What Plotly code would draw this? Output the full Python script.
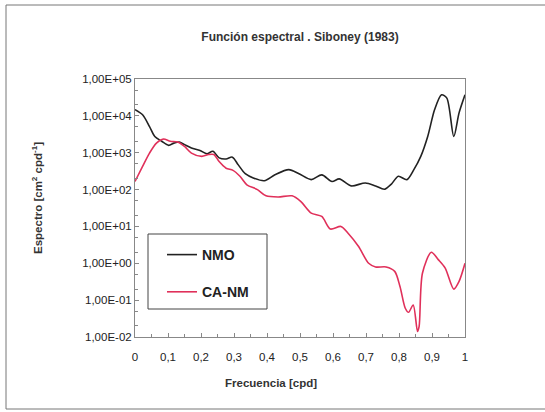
import plotly.graph_objects as go

# NMO spectrum (frequency cpd, log10 spectrum)
nmo_freq = [0.0, 0.023, 0.044, 0.06, 0.081, 0.102, 0.118, 0.134, 0.15, 0.171, 0.197, 0.218, 0.236,
            0.255, 0.276, 0.295, 0.313, 0.334, 0.36, 0.392, 0.424, 0.466, 0.497, 0.534, 0.566, 0.597,
            0.619, 0.655, 0.698, 0.729, 0.756, 0.777, 0.798, 0.824, 0.845, 0.866, 0.887, 0.908, 0.929,
            0.945, 0.966, 0.982, 1.0]
nmo_log = [4.17, 4.03, 3.71, 3.44, 3.31, 3.20, 3.26, 3.29, 3.22, 3.13, 3.06, 2.97, 3.04,
           2.86, 2.83, 2.88, 2.67, 2.43, 2.31, 2.24, 2.40, 2.54, 2.43, 2.27, 2.40, 2.22,
           2.29, 2.10, 2.18, 2.10, 2.01, 2.15, 2.36, 2.27, 2.54, 2.90, 3.44, 4.17, 4.57,
           4.48, 3.44, 4.08, 4.57]

# CA-NM spectrum
ca_freq = [0.0, 0.023, 0.044, 0.065, 0.086, 0.107, 0.129, 0.15, 0.171, 0.202, 0.223, 0.239, 0.255,
           0.276, 0.297, 0.318, 0.339, 0.371, 0.397, 0.434, 0.476, 0.502, 0.534, 0.566, 0.592,
           0.624, 0.645, 0.677, 0.708, 0.729, 0.761, 0.787, 0.803, 0.819, 0.829, 0.843, 0.856,
           0.861, 0.871, 0.898, 0.919, 0.94, 0.966, 0.982, 1.0]
ca_log = [2.22, 2.63, 2.99, 3.26, 3.37, 3.31, 3.29, 3.17, 2.99, 2.90, 2.95, 2.95, 2.76,
          2.58, 2.52, 2.36, 2.13, 2.00, 1.83, 1.80, 1.83, 1.68, 1.36, 1.27, 0.93,
          1.00, 0.82, 0.46, 0.00, -0.10, -0.10, -0.22, -0.63, -1.22, -1.33, -1.13, -1.85,
          -1.71, -0.27, 0.30, 0.10, -0.13, -0.70, -0.49, 0.00]

y_tickvals = [1e-2, 1e-1, 1e0, 1e1, 1e2, 1e3, 1e4, 1e5]
y_ticktext = ["1,00E-02", "1,00E-01", "1,00E+00", "1,00E+01", "1,00E+02", "1,00E+03", "1,00E+04", "1,00E+05"]
x_tickvals = [0, 0.1, 0.2, 0.3, 0.4, 0.5, 0.6, 0.7, 0.8, 0.9, 1]
x_ticktext = ["0", "0,1", "0,2", "0,3", "0,4", "0,5", "0,6", "0,7", "0,8", "0,9", "1"]

nmo_vals = [10 ** v for v in nmo_log]
ca_vals = [10 ** v for v in ca_log]

FONT = "Liberation Sans, Arial, sans-serif"

# plot area in pixels: left 135, right 465, top 79, bottom 337
PL, PR, PT, PB = 135, 465, 79, 337
PW, PH = PR - PL, PB - PT


def px(x):
    return (x - PL) / PW


def py(y):
    return (PB - y) / PH


fig = go.Figure()
fig.add_trace(go.Scatter(x=nmo_freq, y=nmo_vals, mode="lines", name="<b>NMO</b>",
                         line=dict(color="#222222", width=1.6, shape="spline", smoothing=0.8),
                         legendgroup="a"))
fig.add_trace(go.Scatter(x=ca_freq, y=ca_vals, mode="lines", name="<b>CA-NM</b>",
                         line=dict(color="#e0305a", width=1.6, shape="spline", smoothing=0.8),
                         legendgroup="b"))

fig.update_layout(
    width=545, height=412,
    margin=dict(l=PL, r=545 - PR, t=PT, b=412 - PB),
    paper_bgcolor="white", plot_bgcolor="white",
    font=dict(family=FONT, size=11, color="#222222"),
    title=dict(text="<b>Función espectral . Siboney (1983)</b>", x=0.5, xref="paper", xanchor="center",
               y=1 - 37 / 412, yanchor="middle", font=dict(size=12, color="#333333")),
    showlegend=True,
    legend=dict(x=px(162), y=py(239), xanchor="left", yanchor="top",
                borderwidth=0, bgcolor="rgba(0,0,0,0)",
                font=dict(size=14, color="#222222"), tracegroupgap=16),
    xaxis=dict(range=[0, 1], tickvals=x_tickvals, ticktext=x_ticktext,
               showgrid=False, zeroline=False, showline=True, linecolor="#888888", linewidth=1,
               mirror=True, ticks="inside", ticklen=4, tickcolor="#888888",
               minor=dict(ticks="inside", ticklen=3, dtick=0.05, tickcolor="#888888"),
               tickfont=dict(size=11.5), ticklabelstandoff=9),
    yaxis=dict(type="log", range=[-2, 5], tickvals=y_tickvals, ticktext=y_ticktext,
               showgrid=False, zeroline=False, showline=True, linecolor="#888888", linewidth=1,
               mirror=True, ticks="inside", ticklen=4, tickcolor="#888888",
               minor=dict(ticks="inside", ticklen=3, tickcolor="#888888"),
               tickfont=dict(size=11.5)),
    annotations=[
        dict(text="<b>Frecuencia [cpd]</b>", xref="paper", yref="paper", x=px(271), y=py(383),
             xanchor="center", yanchor="middle", showarrow=False, font=dict(size=11.5, color="#333333")),
        dict(text="<b>Espectro [cm<sup>2</sup> cpd<sup>-1</sup>]</b>", xref="paper", yref="paper",
             x=px(37), y=py(198), xanchor="center", yanchor="middle", textangle=-90,
             showarrow=False, font=dict(size=11.5, color="#333333")),
    ],
    shapes=[
        dict(type="rect", xref="paper", yref="paper",
             x0=px(6), x1=px(560), y0=py(409), y1=py(5),
             line=dict(color="#777777", width=1), layer="below"),
        dict(type="rect", xref="paper", yref="paper",
             x0=px(148), x1=px(267), y0=py(309), y1=py(234),
             line=dict(color="#444444", width=1), fillcolor="white", layer="above"),
    ],
)

fig.write_html("out.html")
